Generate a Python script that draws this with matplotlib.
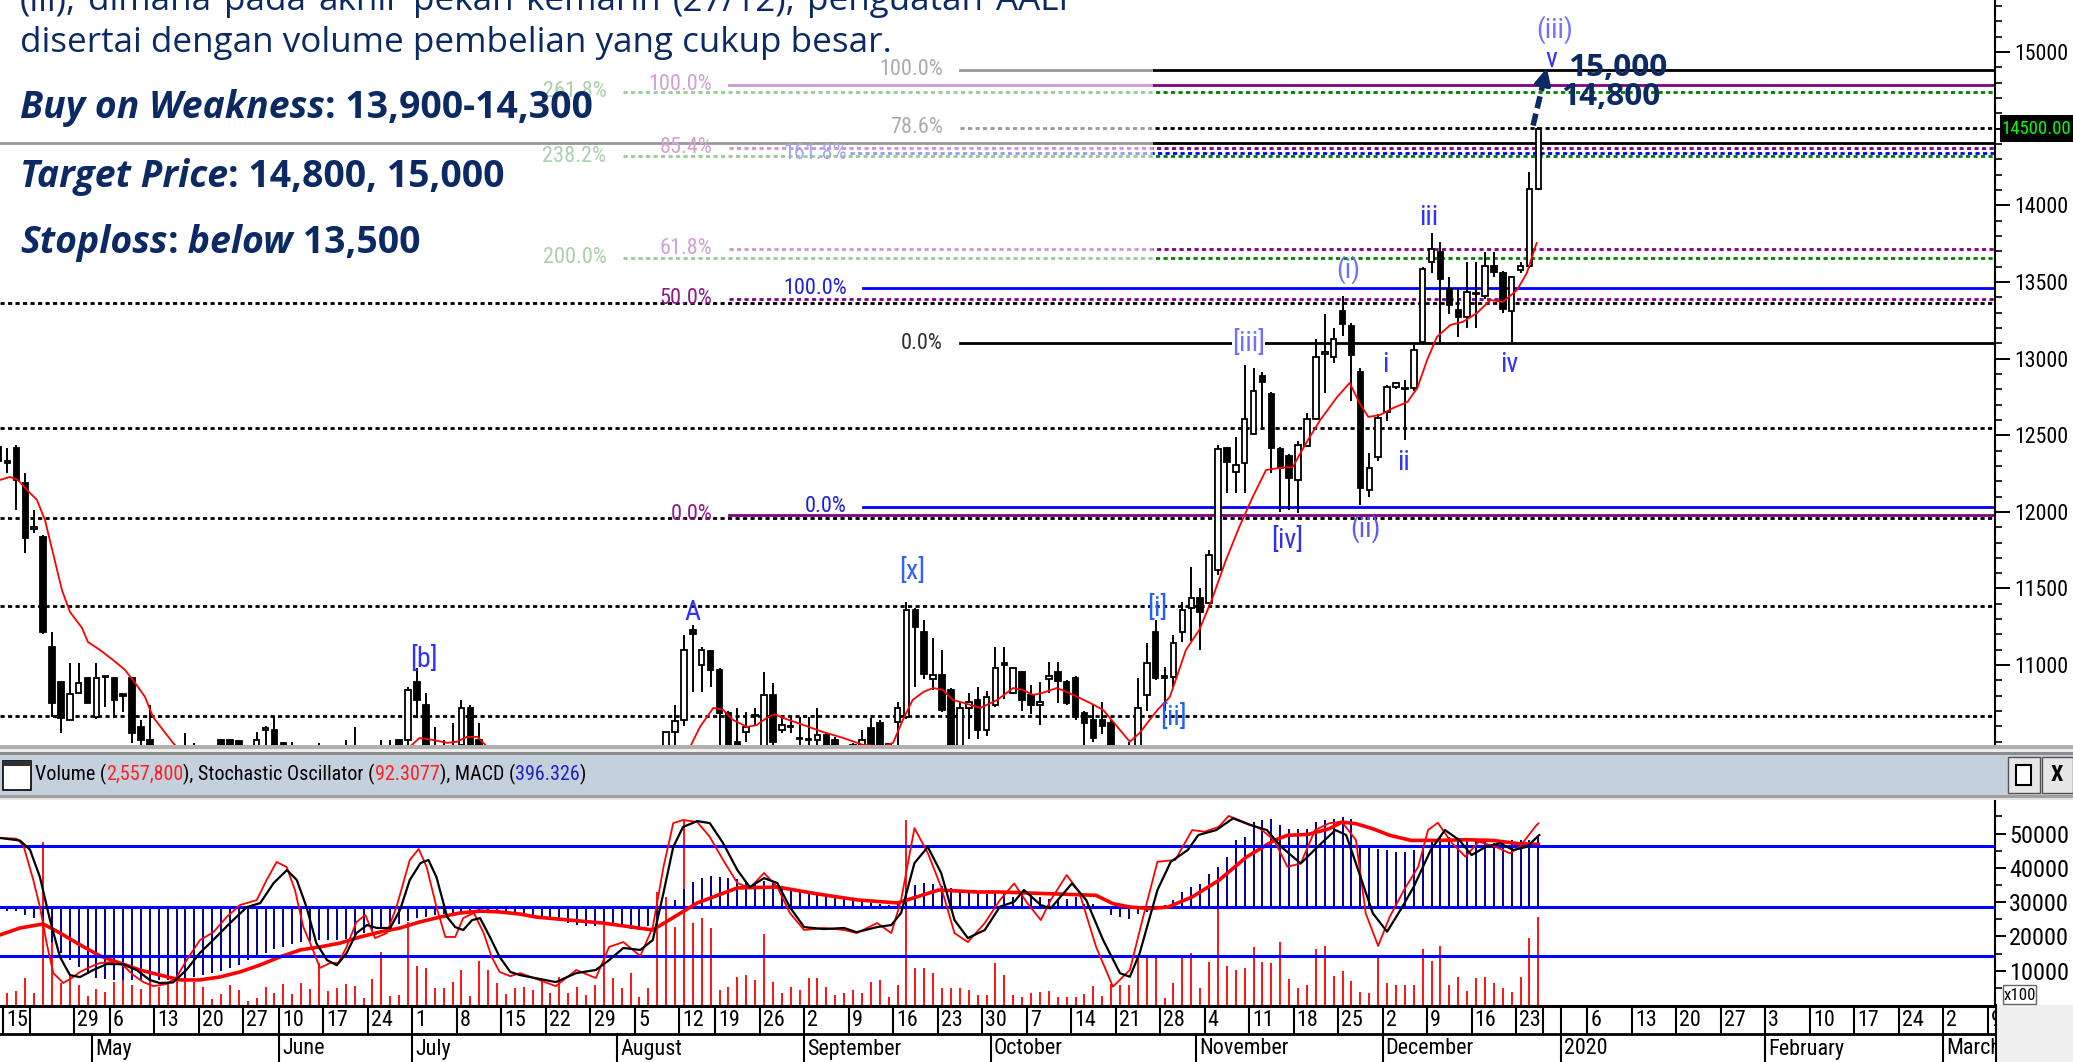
import matplotlib
matplotlib.use("Agg")
import matplotlib.pyplot as plt
from matplotlib import font_manager as fm
from matplotlib.patches import Rectangle
import numpy as np
import pandas as pd


def pick_font(names):
    for name in names:
        try:
            fm.findfont(fm.FontProperties(family=name), fallback_to_default=False)
            return name
        except ValueError:
            pass
    return "DejaVu Sans"


NARROW = pick_font(["Liberation Sans Narrow", "Arial Narrow", "Roboto Condensed"])
SLIDE = pick_font(["Open Sans", "Noto Sans", "Lato"])
plt.rcParams["font.family"] = [NARROW, "DejaVu Sans"]

# ---------------- data ----------------
holidays = ["2019-04-17", "2019-04-19", "2019-05-01", "2019-05-30", "2019-06-03",
            "2019-06-04", "2019-06-05", "2019-06-06", "2019-06-07", "2019-08-12",
            "2019-12-24", "2019-12-25"]
first_day = "2019-04-12"
last_day = "2019-12-27"
axis_end = "2020-03-13"

# daily candles, 12 Apr 2019 .. 27 Dec 2019
opens = [12420, 12320, 12417, 12190, 11890, 11836, 11119, 10890, 10643, 10819,
         10917, 10662, 10923, 10917, 10810, 10917, 10597, 10510, 10350, 10250,
         10150, 10100, 10400, 10250, 10300, 10512, 10512, 10505, 10380, 10420,
         10580, 10577, 10493, 10450, 10350, 10300, 10250, 10400, 10350, 10300,
         10450, 10400, 10350, 10300, 10450, 10512, 10512, 10890, 10740, 10470,
         10450, 10440, 10480, 10721, 10512, 10420, 10350, 10300, 10250, 10200,
         10150, 10250, 10200, 10150, 10100, 10200, 10150, 10100, 10050, 10250,
         10200, 10150, 10300, 10250, 10400, 10470, 10564, 10643, 11230, 11001,
         11093, 10969, 10688, 10500, 10564, 10670, 10467, 10806, 10577, 10600,
         10520, 10510, 10512, 10545, 10512, 10440, 10470, 10480, 10590, 10623,
         10480, 10630, 10662, 11360, 11217, 10910, 10936, 10838, 10467, 10721,
         10773, 10577, 10741, 11014, 10819, 10956, 10806, 10741, 10910, 10956,
         10890, 10917, 10688, 10643, 10640, 10623, 10440, 10420, 10467, 10806,
         11217, 10930, 10923, 11217, 11373, 11438, 11406, 11621, 12417, 12260,
         12319, 12508, 12887, 12769, 12410, 12365, 12208, 12430, 12606, 13030,
         13010, 13310, 13213, 12913, 12143, 12358, 12652, 12815, 12800, 12808,
         13108, 13630, 13695, 13454, 13317, 13271, 13420, 13408, 13604, 13558,
         13310, 13578, 13604, 14106]
highs = [12425, 12417, 12437, 12254, 12012, 11850, 11217, 10890, 11014, 11014,
         10920, 11014, 10930, 10920, 10812, 10923, 10643, 10740, 10450, 10400,
         10300, 10558, 10493, 10400, 10450, 10520, 10515, 10510, 10480, 10564,
         10600, 10669, 10495, 10500, 10450, 10420, 10493, 10460, 10450, 10510,
         10597, 10470, 10450, 10510, 10512, 10515, 10858, 10982, 10819, 10597,
         10512, 10623, 10773, 10740, 10623, 10470, 10450, 10400, 10350, 10300,
         10300, 10350, 10300, 10250, 10250, 10300, 10250, 10200, 10300, 10350,
         10300, 10350, 10400, 10450, 10470, 10564, 10740, 11197, 11262, 11120,
         11100, 10980, 10700, 10721, 10695, 10721, 10956, 10884, 10662, 10662,
         10662, 10662, 10721, 10560, 10530, 10470, 10490, 10577, 10656, 10640,
         10490, 10760, 11412, 11370, 11295, 11177, 11099, 10850, 10760, 10819,
         10858, 10830, 11119, 11119, 10990, 10960, 10870, 10890, 11020, 11020,
         10900, 10930, 10700, 10740, 10760, 10640, 10470, 10500, 10917, 11145,
         11295, 10990, 11197, 11412, 11640, 11500, 11752, 12437, 12420, 12489,
         12958, 12939, 12913, 12780, 12420, 12380, 12460, 12645, 13128, 13291,
         13200, 13408, 13230, 12940, 12384, 12640, 12830, 12850, 12860, 13090,
         13600, 13819, 13760, 13530, 13460, 13630, 13630, 13695, 13695, 13570,
         13540, 13630, 14217, 14510]
lows = [12060, 12254, 12012, 11732, 11862, 11200, 10662, 10558, 10640, 10815,
        10750, 10650, 10727, 10656, 10695, 10490, 10450, 10300, 10200, 10100,
        10000, 10050, 10200, 10150, 10200, 10250, 10300, 10300, 10250, 10350,
        10480, 10350, 10350, 10300, 10250, 10200, 10200, 10300, 10250, 10250,
        10350, 10300, 10250, 10250, 10350, 10350, 10450, 10656, 10400, 10350,
        10380, 10380, 10420, 10400, 10380, 10300, 10250, 10200, 10150, 10100,
        10100, 10150, 10100, 10050, 10050, 10100, 10050, 10000, 10000, 10150,
        10100, 10100, 10200, 10200, 10300, 10400, 10470, 10600, 10825, 10825,
        10858, 10467, 10400, 10400, 10500, 10600, 10450, 10450, 10560, 10560,
        10480, 10470, 10480, 10400, 10380, 10380, 10400, 10450, 10420, 10400,
        10450, 10467, 10650, 10858, 10910, 10840, 10695, 10400, 10420, 10520,
        10520, 10540, 10730, 10780, 10810, 10700, 10680, 10610, 10820, 10754,
        10740, 10640, 10480, 10500, 10550, 10400, 10350, 10350, 10420, 10700,
        10900, 10700, 10858, 11150, 11160, 11099, 11400, 11590, 12123, 12123,
        12123, 12500, 12534, 12254, 12000, 12012, 11993, 12420, 12600, 12776,
        12970, 13150, 12724, 12045, 12100, 12330, 12590, 12800, 12469, 12790,
        13100, 13560, 13108, 13290, 13141, 13200, 13200, 13390, 13530, 13300,
        13108, 13560, 13590, 14100]
closes = [12330, 12330, 12208, 11830, 11900, 11217, 10754, 10656, 10812, 10884,
          10754, 10917, 10920, 10773, 10800, 10558, 10512, 10350, 10250, 10150,
          10100, 10450, 10250, 10300, 10350, 10300, 10350, 10380, 10300, 10512,
          10585, 10400, 10470, 10350, 10300, 10250, 10400, 10350, 10300, 10450,
          10400, 10350, 10300, 10450, 10400, 10400, 10838, 10773, 10460, 10420,
          10440, 10470, 10721, 10470, 10420, 10350, 10300, 10250, 10200, 10150,
          10250, 10200, 10150, 10100, 10200, 10150, 10100, 10050, 10250, 10200,
          10150, 10300, 10250, 10400, 10450, 10564, 10636, 11099, 11205, 11099,
          10969, 10688, 10450, 10450, 10597, 10675, 10806, 10500, 10610, 10597,
          10525, 10512, 10545, 10450, 10420, 10420, 10480, 10512, 10450, 10450,
          10482, 10721, 11360, 11249, 10943, 10936, 10708, 10450, 10721, 10760,
          10577, 10793, 10982, 11001, 10982, 10773, 10741, 10760, 10930, 10897,
          10754, 10662, 10623, 10525, 10600, 10450, 10420, 10450, 10721, 11014,
          10917, 10917, 11145, 11360, 11438, 11347, 11719, 12410, 12326, 12306,
          12606, 12789, 12847, 12417, 12286, 12221, 12437, 12606, 13010, 13040,
          13128, 13226, 13023, 12156, 12286, 12613, 12815, 12841, 12805, 13056,
          13584, 13715, 13519, 13350, 13271, 13434, 13428, 13604, 13565, 13324,
          13532, 13604, 14106, 14500]
volume_x100 = [3400, 3600, 4180, 7970, 3600, 47620, 28860, 6510, 9000, 5830,
               2620, 4570, 3690, 6800, 7290, 5730, 4660, 7190, 5340, 6320,
               15550, 7290, 6800, 5340, 1650, 3210, 5830, 4370, 1170, 1940,
               5340, 3600, 6020, 3210, 6510, 4660, 12340, 4180, 4860, 6020,
               5540, 1940, 7480, 15550, 2620, 2920, 24300, 11370, 10690, 4860,
               4860, 6800, 10200, 2620, 12920, 10200, 6510, 3110, 4860, 5340,
               4370, 7290, 3400, 8260, 3400, 5340, 2920, 5830, 23810, 7770,
               4860, 9230, 2430, 4860, 33040, 31580, 22830, 53930, 23810, 25260,
               22350, 4370, 5340, 8260, 8750, 7290, 20600, 6800, 3400, 5340,
               4370, 7770, 7770, 5340, 2920, 3400, 4370, 3400, 6800, 7290,
               2430, 5830, 53930, 10690, 10690, 9230, 4860, 4860, 4860, 4370,
               2920, 2920, 12150, 8740, 2920, 2430, 3400, 3890, 4180, 2240,
               2240, 2240, 3210, 5540, 2640, 6020, 5830, 5830, 13990, 13600,
               14280, 1940, 6510, 13990, 15250, 4860, 12630, 28180, 11370, 10200,
               10690, 16810, 12630, 12340, 18460, 7480, 4860, 5830, 16230, 17300,
               8450, 10010, 7090, 3890, 3600, 14280, 6510, 5830, 5830, 5830,
               16230, 12920, 17200, 5830, 8060, 4180, 7970, 8060, 6510, 4860,
               3890, 8060, 19430, 25578]
macd = [-45, -25, -20, -45, -62, -110, -200, -260, -300, -340,
        -380, -400, -410, -413, -413, -413, -413, -413, -413, -413,
        -410, -405, -395, -385, -376, -360, -345, -330, -300, -280,
        -260, -240, -225, -210, -200, -190, -187, -187, -187, -180,
        -165, -149, -130, -120, -111, -95, -80, -65, -55, -45,
        -40, -36, -36, -30, -25, -25, -28, -30, -35, -40,
        -50, -60, -70, -80, -90, -100, -105, -110, -100, -105,
        -115, -125, -130, -110, -60, -10, 40, 100, 140, 165,
        175, 170, 165, 160, 150, 140, 145, 135, 120, 105,
        95, 85, 75, 65, 55, 45, 35, 28, 22, 15,
        10, 20, 90, 125, 135, 130, 120, 105, 95, 90,
        80, 75, 80, 85, 57, 85, 66, 57, 47, 47,
        47, 57, 19, 19, 2, -47, -57, -66, -38, -28,
        -9, 9, 38, 85, 113, 132, 189, 226, 283, 377,
        396, 481, 491, 500, 462, 443, 443, 443, 481, 491,
        500, 509, 500, 340, 340, 330, 321, 311, 311, 321,
        340, 368, 396, 396, 387, 377, 377, 368, 362, 368,
        377, 377, 377, 396]

# line vertices (day position, value)
ma_day = [-0.84, 0.28, 1.18, 2.19, 3.31, 4.21, 5.11, 6.12, 7.02, 8.37, 9.04, 10.39,
          11.85, 13.2, 14.33, 15.45, 16.35, 17.47, 18.6, 21.6, 28.4, 36.2, 41.9, 45.2,
          46.3, 47.8, 49.4, 50.5, 51.6, 52.8, 53.9, 57.6, 64.3, 71.1, 75.6, 76.7, 77.8,
          79.3, 80.4, 81.5, 83.1, 84.2, 85.3, 86.2, 87.1, 89.4, 91.6, 93.9, 96.1, 98.4,
          99.5, 100.6, 101.7, 102.9, 104.0, 105.1, 106.2, 107.4, 109.3, 111.2, 113.0,
          114.1, 115.2, 116.3, 117.9, 119.0, 120.2, 121.6, 123.1, 124.7, 126.1, 127.2,
          129.2, 130.6, 132.4, 133.9, 135.3, 136.9, 138.4, 139.9, 141.4, 142.9, 144.4,
          145.9, 147.5, 149.4, 150.8, 151.9, 152.9, 154.2, 155.7, 157.3, 158.4, 159.5,
          160.6, 162.1, 163.5, 165.1, 166.6, 168.0, 169.6, 170.7, 171.8]
ma_val = [12208, 12228, 12208, 12143, 12078, 11947, 11732, 11490, 11347, 11243, 11151, 11099,
          11034, 10969, 10884, 10793, 10662, 10577, 10493, 10300, 10150, 10200, 10350, 10467,
          10525, 10512, 10493, 10500, 10532, 10532, 10467, 10350, 10200, 10200, 10400, 10467, 10597,
          10721, 10708, 10643, 10597, 10610, 10656, 10680, 10656, 10610, 10564, 10525, 10480, 10470,
          10493, 10643, 10773, 10825, 10851, 10838, 10773, 10754, 10721, 10773, 10851,
          10838, 10806, 10819, 10851, 10825, 10793, 10754, 10708, 10597, 10500, 10558,
          10708, 10793, 11099, 11230, 11425, 11686, 11902, 12097, 12273, 12286, 12293,
          12449, 12600, 12750, 12841, 12710, 12619, 12632, 12678, 12717, 12808, 12991,
          13141, 13219, 13239, 13297, 13382, 13369, 13447, 13558, 13754]
k_day = [-0.84, 1.03, 1.78, 2.9, 3.65, 4.4, 5.15, 6.27, 7.21, 8.15,
         9.27, 10.39, 11.7, 13.0, 14.14, 15.26, 16.39, 17.88, 19.0, 20.13,
         21.63, 23.13, 24.63, 26.12, 28.0, 29.12, 30.24, 31.37, 32.3, 33.24,
         34.18, 35.11, 36.24, 37.18, 38.1, 39.2, 40.2, 41.3, 42.6, 43.7,
         45.2, 46.2, 47.1, 48.2, 49.2, 50.3, 51.2, 52.4, 53.5, 54.4,
         55.3, 56.5, 57.6, 61.6, 63.9, 66.1, 67.6, 69.2, 71.1, 72.5,
         73.7, 74.8, 75.9, 77.5, 78.9, 80.4, 82.0, 83.4, 85.0, 86.5,
         87.9, 89.5, 91.7, 94.0, 95.4, 97.7, 99.3, 100.4, 101.9, 103.4,
         104.9, 106.4, 107.9, 109.8, 111.5, 113.1, 114.6, 116.1, 117.2, 119.0,
         120.4, 122.3, 124.2, 126.1, 127.7, 129.2, 131.2, 133.1, 134.5, 136.1,
         137.2, 138.8, 140.7, 142.3, 143.8, 145.3, 146.9, 148.5, 149.9, 151.5,
         152.6, 154.0, 155.3, 156.9, 158.5, 159.6, 160.7, 162.3, 163.8, 165.3,
         167.2, 168.8, 169.9, 171.8, 172.0]
k_val = [84.4, 84, 80.5, 61.5, 46.7, 27, 10.7, 5.3, 8, 11.3,
         14, 16.2, 16.7, 15, 9.6, 5.8, 3.6, 4.7, 8.5, 17.8,
         28.7, 33, 41.3, 47.8, 50.5, 61.5, 71.3, 68.5, 56, 35.8,
         25, 13.5, 16.2, 16.2, 25, 38.5, 42.4, 29.8, 32.5, 46.7,
         72.4, 78.4, 68.5, 46.7, 30.4, 30.4, 40.7, 43.5, 32.5, 19.5,
         11.3, 9, 10.7, 3.6, 12.4, 8, 25, 27.6, 20, 35.8,
         68.5, 92.5, 94.2, 93.1, 85, 72.4, 59.8, 57.1, 65.3, 57.6,
         43.5, 34.2, 35.3, 34.2, 32.5, 38, 32.5, 50.5, 89.8, 76.2,
         57.6, 32.5, 27.6, 38, 50.5, 59.6, 48.7, 39.6, 50.5, 64.2,
         55.1, 25.1, 3.3, 12.4, 43.3, 71.4, 72.4, 88.7, 87.8, 90.5,
         96.4, 93.3, 89.6, 83.3, 68.7, 70.5, 88.7, 92.4, 93.3, 83.3,
         43.3, 25.5, 41.4, 56, 68.7, 88.7, 92.7, 81.5, 74.2, 82.4,
         79.6, 76, 79.6, 91.5, 92.3]
d_day = [-0.84, 1.4, 2.53, 3.65, 4.78, 5.9, 7.02, 8.15, 9.64, 11.14,
         13.0, 14.5, 16.0, 17.1, 18.6, 20.1, 21.6, 23.1, 25.0, 26.9,
         28.4, 29.9, 31.4, 32.5, 33.6, 34.7, 35.9, 37.0, 38.1, 39.2,
         40.4, 41.5, 43.0, 44.1, 45.2, 46.4, 47.3, 48.2, 49.4, 50.3,
         51.2, 52.2, 53.1, 54.2, 55.3, 56.5, 57.6, 61.6, 63.9, 66.1,
         67.6, 69.2, 71.1, 72.5, 73.7, 74.8, 75.9, 77.5, 78.9, 80.4,
         82.0, 83.4, 85.0, 86.5, 87.9, 89.5, 91.7, 94.0, 95.4, 97.7,
         99.3, 100.4, 101.9, 103.4, 104.9, 106.4, 107.9, 109.8, 111.5, 113.1,
         114.2, 116.1, 117.2, 119.6, 121.2, 123.1, 125.0, 126.1, 127.2, 129.2,
         130.7, 132.6, 133.8, 135.8, 137.7, 139.6, 141.5, 143.1, 145.3, 147.2,
         149.2, 150.4, 151.5, 153.4, 155.0, 156.5, 158.0, 159.9, 161.5, 163.1,
         164.5, 166.1, 167.7, 169.2, 170.7, 172.1]
d_val = [84.4, 83, 78, 63, 39.6, 19.5, 9.6, 8.5, 12.4, 15.6,
         15.6, 12.4, 6.9, 5.3, 5.6, 12.4, 21.6, 28.7, 38, 46.7,
         48.9, 59.8, 66.9, 61.5, 46.7, 27, 17.8, 15, 21.6, 32.5,
         36.9, 35.3, 35.3, 45.1, 61.5, 70.7, 72.4, 63, 41.3, 35.8,
         34.2, 39.6, 40.7, 30.4, 19.5, 11.3, 9.6, 5.8, 10.7, 12.4,
         17.8, 24.4, 23.3, 28.7, 54.4, 79.5, 90.4, 93.6, 92.5, 81.6,
         66.9, 57.6, 62.5, 59.8, 46.7, 35.8, 34.7, 35.3, 33, 35.8,
         36.9, 43.5, 70.7, 79.5, 65.3, 39.6, 29.8, 34.2, 46.9, 49.6,
         56, 47.8, 46, 59.6, 50.5, 28.7, 10.6, 8.7, 21.5, 56,
         71.4, 77.8, 86, 88.7, 95.1, 91.5, 88.7, 79.6, 70.5, 79.6,
         88.7, 86, 70.5, 43.3, 33.3, 45.1, 57.8, 77.8, 88.7, 83.3,
         75.1, 79.6, 81.5, 77.8, 79.6, 86]
sig_day = [-0.84, 1.4, 4.0, 5.9, 7.8, 10.4, 12.6, 14.9, 17.1, 19.4,
           21.6, 23.9, 26.1, 28.4, 30.6, 32.9, 35.1, 37.4, 39.6, 41.9,
           44.1, 46.3, 48.6, 50.8, 53.1, 55.3, 57.6, 59.4, 66.9, 72.5,
           77.5, 82.0, 86.5, 91.0, 95.5, 100.0, 104.6, 109.0, 111.5, 122.3,
           124.2, 126.1, 128.4, 130.4, 133.1, 136.1, 139.2, 142.3, 143.8, 146.1,
           148.5, 149.9, 151.5, 153.4, 155.3, 157.7, 160.7, 163.8, 166.9, 169.9,
           172.0]
sig_val = [-158, -119, -96, -147, -204, -277, -317, -357, -385, -413,
           -413, -396, -368, -328, -283, -243, -226, -204, -170, -141,
           -119, -85, -57, -34, -23, -28, -40, -57, -91, -130,
           23, 108, 113, 74, 40, 23, 96, 85, 85, 66,
           19, 0, -9, 0, 57, 151, 283, 377, 406, 411,
           443, 481, 472, 443, 406, 377, 377, 381, 377, 358,
           355]

# fibonacci sets: level, label, dotted
black_fib = [14883, 14504, 13101]
black_names = ["100.0%", "78.6%", "0.0%"]
black_dot = [False, True, False]
purple_fib = [14785, 14374, 13715, 13390, 11980]
purple_names = ["100.0%", "85.4%", "61.8%", "50.0%", "0.0%"]
purple_dot = [False, True, True, True, False]
green_fib = [14740, 14320, 13656]
green_names = ["261.8%", "238.2%", "200.0%"]
blue_fib = [14340, 13460, 12032]
blue_names = ["161.8%", "100.0%", "0.0%"]
blue_dot = [True, False, False]
plain_solid = [14407]
plain_dotted = [13362, 12547, 11960, 11386, 10669]

wave_text = ["(iii)", "v", "iii", "(i)", "i", "iv", "ii", "(ii)", "[iii]", "[iv]",
             "[x]", "A", "[i]", "[ii]", "[b]"]
wave_day = [173.8, 173.5, 159.7, 150.6, 154.8, 168.7, 156.9, 152.6, 139.4, 143.8,
            101.7, 77.0, 129.2, 131.0, 46.8]
wave_price = [15144, 14948, 13917, 13578, 12958, 12958, 12319, 11889, 13095, 11810,
              11608, 11341, 11367, 10656, 11034]
wave_color = ["#7070ff", "#3030ff", "#3030ff", "#7070ff", "#3030ff", "#3030ff", "#3030ff",
              "#5a5af5", "#7070ff", "#3030ee", "#3060ff", "#3030ff", "#2060ff", "#2060ff",
              "#3030ff"]

# ---------------- layout ----------------
W, H = 2073, 1062
NAVY = "#0b2a63"
XL = (-0.84, 223.3)

fig = plt.figure(figsize=(W / 100, H / 100), dpi=100)
R = fig.canvas.get_renderer()


def frac(x0, y0, x1, y1):
    return [x0 / W, 1 - y1 / H, (x1 - x0) / W, (y1 - y0) / H]


def frect(x0, y0, x1, y1, **kw):
    fig.add_artist(Rectangle((x0 / W, 1 - y1 / H), (x1 - x0) / W, (y1 - y0) / H,
                             transform=fig.transFigure, **kw))


def text_w(s, size, family, weight="normal", style="normal"):
    t = fig.text(0, 0, s, fontsize=size, family=family, fontweight=weight, fontstyle=style)
    w = t.get_window_extent(renderer=R).width
    t.remove()
    return w


def fit(s, width, family, **kw):
    return 20.0 * width / text_w(s, 20, family, **kw)


tick_size = fit("15000", 54, NARROW)
low_tick_size = fit("50000", 60, NARROW)
date_size = fit("September", 94, NARROW)
fib_size = fit("100.0%", 64, NARROW)
wave_size = fib_size * 1.25

traded = pd.bdate_range(first_day, last_day)
traded = traded[~traded.isin(pd.to_datetime(holidays))]
future = pd.bdate_range("2019-12-30", axis_end)
cal = traded.append(future)
pos = np.arange(len(cal)) - 1
days = pos[:len(opens)]

o = np.array(opens, float)
hi = np.array(highs, float)
lo = np.array(lows, float)
c = np.array(closes, float)

# ---------------- price panel ----------------
ax = fig.add_axes(frac(0, 0, 1995, 745))
ax.set_xlim(XL)
ax.set_ylim(10479, 15339)
for s in ["left", "top", "bottom"]:
    ax.spines[s].set_visible(False)
ax.spines["right"].set_linewidth(1.5)
ax.tick_params(axis="x", bottom=False, labelbottom=False)
ax.yaxis.tick_right()
ax.set_yticks([11000, 11500, 12000, 12500, 13000, 13500, 14000, 14500, 15000],
              ["11000", "11500", "12000", "12500", "13000", "13500", "14000", "", "15000"])
ax.set_yticks(np.arange(10500, 15301, 100), minor=True)
ax.tick_params(axis="y", which="major", length=11, width=1.4, pad=3, labelsize=tick_size)
ax.tick_params(axis="y", which="minor", length=5, width=1.2)

dash = (0, (1.5, 1.2))
for lvl in plain_solid:
    ax.axhline(lvl, color="black", lw=2, zorder=2)
for lvl in plain_dotted:
    ax.axhline(lvl, color="black", lw=2, ls=dash, zorder=2)

for lvl, name, dot in zip(black_fib, black_names, black_dot):
    ax.plot([107.0, XL[1]], [lvl, lvl], color="black", lw=2, ls=dash if dot else "-", zorder=2)
    ax.text(105.1, lvl, name, ha="right", va="center", color="#303030", fontsize=fib_size)
for lvl, name, dot in zip(purple_fib, purple_names, purple_dot):
    ax.plot([81.1, XL[1]], [lvl, lvl], color="#800080", lw=2, ls=dash if dot else "-", zorder=2)
    ax.text(79.2, lvl, name, ha="right", va="center", color="#8b1a8b", fontsize=fib_size)
for lvl, name in zip(green_fib, green_names):
    ax.plot([69.2, XL[1]], [lvl, lvl], color="#008000", lw=2, ls=dash, zorder=2)
    ax.text(67.3, lvl, name, ha="right", va="center", color="#2e8b2e", fontsize=fib_size)
for lvl, name, dot in zip(blue_fib, blue_names, blue_dot):
    start = 94.7 if dot else 96.1
    ax.plot([start, XL[1]], [lvl, lvl], color="#0000ff", lw=2, ls=dash if dot else "-", zorder=2)
    ax.text(94.3, lvl, name, ha="right", va="center", color="#2020e0", fontsize=fib_size)

# candles
up = c >= o
body_lo = np.minimum(o, c)
body_h = np.maximum(np.abs(c - o), 7)
ax.vlines(days, lo, hi, color="black", lw=1.4, zorder=3)
ax.bar(days[up], body_h[up], bottom=body_lo[up], width=0.62, facecolor="white",
       edgecolor="black", lw=1.3, zorder=4)
ax.bar(days[~up], body_h[~up], bottom=body_lo[~up], width=0.62, facecolor="black",
       edgecolor="black", lw=1.3, zorder=4)
ax.plot(ma_day, ma_val, color="red", lw=1.3, zorder=5)

for txt, x, y, col in zip(wave_text, wave_day, wave_price, wave_color):
    box = dict(facecolor="white", edgecolor="none", pad=0) if txt == "[iii]" else None
    ax.text(x, y, txt, ha="center", va="center", color=col, fontsize=wave_size, bbox=box, zorder=6)

# target arrow and labels
ax.plot([171.4, 172.55], [14520, 14800], color=NAVY, lw=4, ls=(0, (2.2, 1.0)), zorder=7)
ax.annotate("", xy=(172.95, 14895), xytext=(172.5, 14790),
            arrowprops=dict(arrowstyle="-|>", color=NAVY, lw=3, mutation_scale=24,
                            shrinkA=0, shrinkB=0), zorder=7)
tgt_size = fit("15,000", 99, SLIDE, weight="bold")
ax.text(175.3, 14896, "15,000", color=NAVY, fontsize=tgt_size, fontweight="bold",
        family=SLIDE, ha="left", va="center", zorder=7)
ax.text(174.5, 14706, "14,800", color=NAVY, fontsize=tgt_size, fontweight="bold",
        family=SLIDE, ha="left", va="center", zorder=7)

# ---------------- indicator panel ----------------
axl = fig.add_axes(frac(0, 800, 1995, 1005))
axl.set_xlim(XL)
axl.set_ylim(0, 59770)
axl.vlines(days, 0, volume_x100, color="#ff0000", lw=1.3)

axm = axl.twinx()
axm.set_ylim(-555, 606)
axm.set_xlim(XL)
axm.set_yticks([])
for s in axm.spines.values():
    s.set_visible(False)
axm.vlines(days, 0, macd, color="#000090", lw=1.4, zorder=2)
axm.axhline(0, color="#0000ff", lw=2.2, zorder=3)
axm.plot(sig_day, sig_val, color="#ff0000", lw=2.6, zorder=4)

axs = axl.twinx()
axs.set_ylim(-6.7, 105.1)
axs.set_xlim(XL)
axs.set_yticks([])
for s in axs.spines.values():
    s.set_visible(False)
axs.axhline(80, color="#0000ff", lw=2.2)
axs.axhline(20, color="#0000ff", lw=2.2)
axs.plot(k_day, k_val, color="#ff0000", lw=1.3)
axs.plot(d_day, d_val, color="black", lw=1.6)

# twinx moves the host ticks to the left, so put the volume scale back on the right
for s in ["left", "top", "bottom"]:
    axl.spines[s].set_visible(False)
axl.spines["right"].set_visible(True)
axl.spines["right"].set_linewidth(1.5)
axl.yaxis.set_ticks_position("right")
axl.tick_params(axis="y", which="both", left=False, labelleft=False, right=True, labelright=True)
axl.tick_params(axis="x", bottom=False, labelbottom=False)
axl.set_yticks([10000, 20000, 30000, 40000, 50000])
axl.set_yticks(np.arange(5000, 59000, 5000), minor=True)
axl.tick_params(axis="y", which="major", length=8, width=1.4, pad=2, labelsize=low_tick_size)
axl.tick_params(axis="y", which="minor", length=5, width=1.2)

# ---------------- date axis ----------------
axd = fig.add_axes(frac(0, 1005, 1995, 1062))
axd.set_xlim(XL)
axd.set_ylim(0, 57)
axd.axis("off")
axd.plot(XL, [56, 56], color="black", lw=2.2, clip_on=False)
axd.plot(XL, [28, 28], color="black", lw=2)

monday = cal - pd.to_timedelta(cal.weekday, unit="D")
mon = monday.values
new_week = np.r_[False, mon[1:] != mon[:-1]]
new_month = np.r_[False, cal.month.values[1:] != cal.month.values[:-1]]
skip_labels = ["2019-04-22", "2019-12-30"]

for k in np.where(new_week)[0]:
    x = pos[k] - 0.5
    axd.plot([x, x], [28, 56], color="black", lw=1.5)
    if str(monday[k].date()) not in skip_labels:
        axd.text(x + 0.35, 41, str(monday[k].day), fontsize=date_size, ha="left",
                 va="center", clip_on=True)
for k in np.where(new_month)[0]:
    x = pos[k] - 0.5
    top = 56 if cal[k].month == 1 else 28
    axd.plot([x, x], [0, top], color="black", lw=1.5)
    name = str(cal[k].year) if cal[k].month == 1 else cal[k].strftime("%B")
    axd.text(x + 0.35, 13, name, fontsize=date_size, ha="left", va="center", clip_on=True)

# ---------------- chrome ----------------
frect(1996, 1005, 2073, 1062, facecolor="#f0f0f0", edgecolor="none", zorder=1)
fig.add_artist(plt.Line2D([1995.5 / W, 1995.5 / W], [0, 1 - 1005 / H], color="black",
                          lw=1.5, transform=fig.transFigure, zorder=1))
frect(2003, 985, 2036, 1004, facecolor="white", edgecolor="#666666", lw=1, zorder=3)
fig.text(2019.5 / W, 1 - 995 / H, "x100", fontsize=fib_size * 0.75, ha="center", va="center",
         zorder=4)

frect(0, 745, W, 749, facecolor="#b0b0b0", edgecolor="none", zorder=2)
frect(0, 749, W, 752, facecolor="#ececec", edgecolor="none", zorder=2)
frect(0, 752, W, 755, facecolor="#8c8c8c", edgecolor="none", zorder=2)
frect(0, 755, W, 795, facecolor="#c4d0dc", edgecolor="none", zorder=2)
frect(0, 795, W, 798, facecolor="#a0a0a0", edgecolor="none", zorder=2)
frect(0, 798, W, 800, facecolor="#e4e4e4", edgecolor="none", zorder=2)
frect(3, 761, 31, 790, facecolor="white", edgecolor="black", lw=1.2, zorder=3)
frect(3, 761, 31, 766, facecolor="#303030", edgecolor="none", zorder=4)
frect(2008, 757, 2040, 793, facecolor="#e6e6e6", edgecolor="#555555", lw=1, zorder=3)
frect(2016, 765, 2031, 785, facecolor="white", edgecolor="black", lw=1.5, zorder=4)
frect(2042, 757, 2073, 793, facecolor="#e6e6e6", edgecolor="#555555", lw=1, zorder=3)
fig.text(2057 / W, 1 - 775 / H, "X", fontsize=date_size, fontweight="bold", ha="center",
         va="center", zorder=4)

title_runs = [("Volume (", "black"), ("2,557,800", "#ff2020"), ("), Stochastic Oscillator (", "black"),
              ("92.3077", "#ff2020"), ("), MACD (", "black"), ("396.326", "#2020c0"), (")", "black")]
base = sum(text_w(t, 20, NARROW) for t, _ in title_runs)
title_size = 20 * 552 / base
x = 35
for t, col in title_runs:
    tt = fig.text(x / W, 1 - 780 / H, t, fontsize=title_size, color=col, va="baseline", zorder=4)
    x += tt.get_window_extent(renderer=R).width

frect(2000, 115, 2073, 142, facecolor="black", edgecolor="none", zorder=8)
fig.text(2036.5 / W, 1 - 128.5 / H, "14500.00", color="#00ff00", ha="center", va="center",
         fontsize=fit("14500.00", 70, NARROW), zorder=9)

# ---------------- slide text overlay ----------------
frect(0, 0, 1153, 272, facecolor="white", edgecolor="none", alpha=0.6, zorder=5)


def draw_runs(x, y, runs, size):
    for txt, st in runs:
        t = fig.text(x / W, 1 - y / H, txt, fontsize=size, family=SLIDE, fontweight="bold",
                     fontstyle=st, color=NAVY, va="baseline", ha="left", zorder=7)
        x += t.get_window_extent(renderer=R).width


runs1 = [("Buy on Weakness", "italic"), (": 13,900-14,300", "normal")]
runs2 = [("Target Price", "italic"), (": 14,800, 15,000", "normal")]
runs3 = [("Stoploss", "italic"), (":", "normal"), (" below", "italic"), (" 13,500", "normal")]
w1 = sum(text_w(t, 20, SLIDE, "bold", st) for t, st in runs1)
big = 20 * 572 / w1
draw_runs(20, 118, runs1, big)
draw_runs(20, 187, runs2, big)
draw_runs(20, 253, runs3, big)

line2 = "disertai dengan volume pembelian yang cukup besar."
reg = fit(line2, 868, SLIDE)
fig.text(20 / W, 1 - 52 / H, line2, fontsize=reg, family=SLIDE, color=NAVY, va="baseline", zorder=7)
words = "(iii), dimana pada akhir pekan kemarin (27/12), penguatan AALI".split()
ww = [text_w(wd, reg, SLIDE) for wd in words]
gap = (1048 - sum(ww)) / (len(words) - 1)
x = 20
for wd, w in zip(words, ww):
    fig.text(x / W, 1 - 10 / H, wd, fontsize=reg, family=SLIDE, color=NAVY, va="baseline", zorder=7)
    x += w + gap

fig.savefig("out.png", dpi=100)
